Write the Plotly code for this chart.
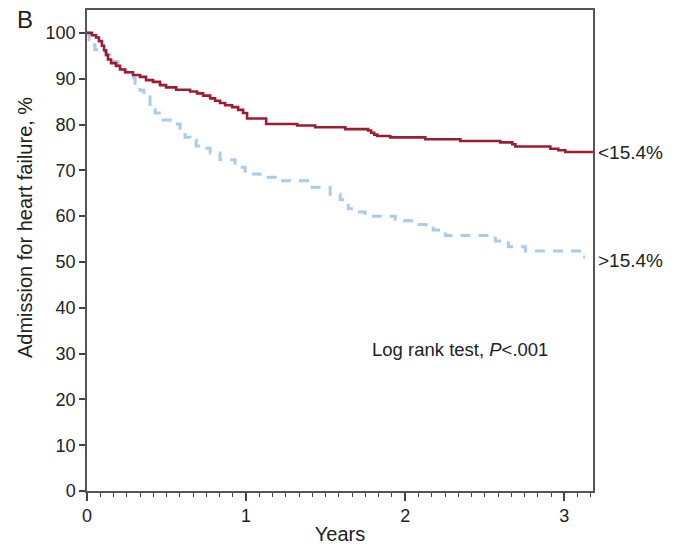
import plotly.graph_objects as go

# Kaplan-Meier step data (years, % free of admission)
low_years = [0, 0.031, 0.057, 0.075, 0.094, 0.107, 0.12, 0.132, 0.151, 0.182, 0.208, 0.239,
             0.289, 0.333, 0.371, 0.415, 0.459, 0.497, 0.56, 0.648, 0.692, 0.73, 0.774, 0.805,
             0.836, 0.868, 0.912, 0.95, 0.981, 1.006, 1.126, 1.321, 1.434, 1.623, 1.767, 1.786,
             1.805, 1.824, 1.906, 2.126, 2.346, 2.597, 2.673, 2.692, 2.912, 2.962, 3.006, 3.18]
low_surv = [100, 99.5, 99.0, 98.2, 97.2, 96.2, 95.2, 94.2, 93.4, 92.8, 92.0, 91.4,
            90.8, 90.4, 89.7, 89.3, 88.6, 88.1, 87.6, 87.2, 86.8, 86.3, 85.7, 85.2,
            84.7, 84.2, 83.8, 83.2, 82.5, 81.3, 80.1, 79.8, 79.4, 79.0, 78.7, 78.2,
            77.8, 77.5, 77.2, 76.8, 76.4, 76.1, 75.7, 75.2, 74.7, 74.4, 74.0, 74.0]

high_years = [0, 0.013, 0.031, 0.05, 0.094, 0.12, 0.145, 0.17, 0.195, 0.22, 0.245, 0.277,
              0.302, 0.333, 0.358, 0.396, 0.428, 0.478, 0.522, 0.585, 0.616, 0.648, 0.686,
              0.717, 0.774, 0.836, 0.931, 0.994, 1.088, 1.214, 1.403, 1.528, 1.591, 1.642,
              1.673, 1.748, 1.937, 2.063, 2.176, 2.252, 2.566, 2.648, 2.755, 3.113, 3.13]
high_surv = [100, 98.5, 97.4, 96.3, 95.8, 95.2, 94.5, 93.7, 93.0, 92.0, 91.3, 90.2,
             88.2, 87.5, 86.0, 83.3, 82.5, 81.0, 80.1, 78.8, 77.2, 76.6, 75.3,
             74.8, 73.8, 72.3, 70.7, 69.2, 68.5, 67.7, 66.3, 64.8, 63.6, 61.6,
             60.9, 60.0, 59.0, 58.2, 57.0, 55.8, 54.6, 53.3, 52.4, 51.1, 51.1]

group_labels = ["<15.4%", ">15.4%"]
y_ticks = list(range(0, 101, 10))
x_ticks = [0, 1, 2, 3]

RED = "#9e1b32"
BLUE = "#a9cbec"
FONT = "Liberation Sans, Arial, sans-serif"
TXT = "#222222"

fig = go.Figure()
fig.add_trace(go.Scatter(x=high_years, y=high_surv, mode="lines", line_shape="hv",
                         line=dict(color=BLUE, width=3, dash="10px,8px"), showlegend=False))
fig.add_trace(go.Scatter(x=low_years, y=low_surv, mode="lines", line_shape="hv",
                         line=dict(color=RED, width=2.6), showlegend=False))

fig.update_layout(
    width=678, height=551,
    margin=dict(l=87, r=85, t=10, b=60),
    paper_bgcolor="white", plot_bgcolor="white",
    font=dict(family=FONT, size=18, color=TXT),
    xaxis=dict(range=[0, 3.18], tickvals=x_ticks, ticks="outside", ticklen=8, tickwidth=1.5,
               tickcolor="#444", showline=True, linecolor="#555", linewidth=1.5, mirror=True,
               showgrid=False, zeroline=False, automargin=False,
               minor=dict(dtick=1/12, ticks="outside", ticklen=4, tickwidth=1.2, tickcolor="#444"),
               title=dict(text="Years", font=dict(size=20), standoff=2),
               tickfont=dict(size=18)),
    yaxis=dict(range=[0, 105], tickvals=y_ticks, ticks="outside", ticklen=6, tickwidth=1.5,
               tickcolor="#444", showline=True, linecolor="#555", linewidth=1.5, mirror=True,
               showgrid=False, zeroline=False, automargin=False,
               tickfont=dict(size=18)),
)

# y-axis title (placed as in the original, slightly above plot centre)
fig.add_annotation(x=-0.1225, xref="paper", y=57.4, yref="y",
                   text="Admission for heart failure, %", textangle=-90,
                   showarrow=False, xanchor="center", yanchor="middle", font=dict(size=20))
fig.add_annotation(x=1, xref="paper", y=low_surv[-1], yref="y", text=group_labels[0],
                   showarrow=False, xanchor="left", xshift=3, font=dict(size=19))
fig.add_annotation(x=1, xref="paper", y=50.3, yref="y", text=group_labels[1],
                   showarrow=False, xanchor="left", xshift=3, font=dict(size=19))
fig.add_annotation(x=1.78, y=30.8, text="Log rank test, <i>P</i><.001", showarrow=False,
                   xanchor="left", yanchor="middle", font=dict(size=18.5))
fig.add_annotation(x=-0.142, xref="paper", y=0.981, yref="paper", text="B", showarrow=False,
                   xanchor="left", yanchor="middle", font=dict(size=24))

fig.write_html("out.html", config={"displayModeBar": False},
               post_script="document.body.style.margin='0';document.body.style.overflow='hidden';")
